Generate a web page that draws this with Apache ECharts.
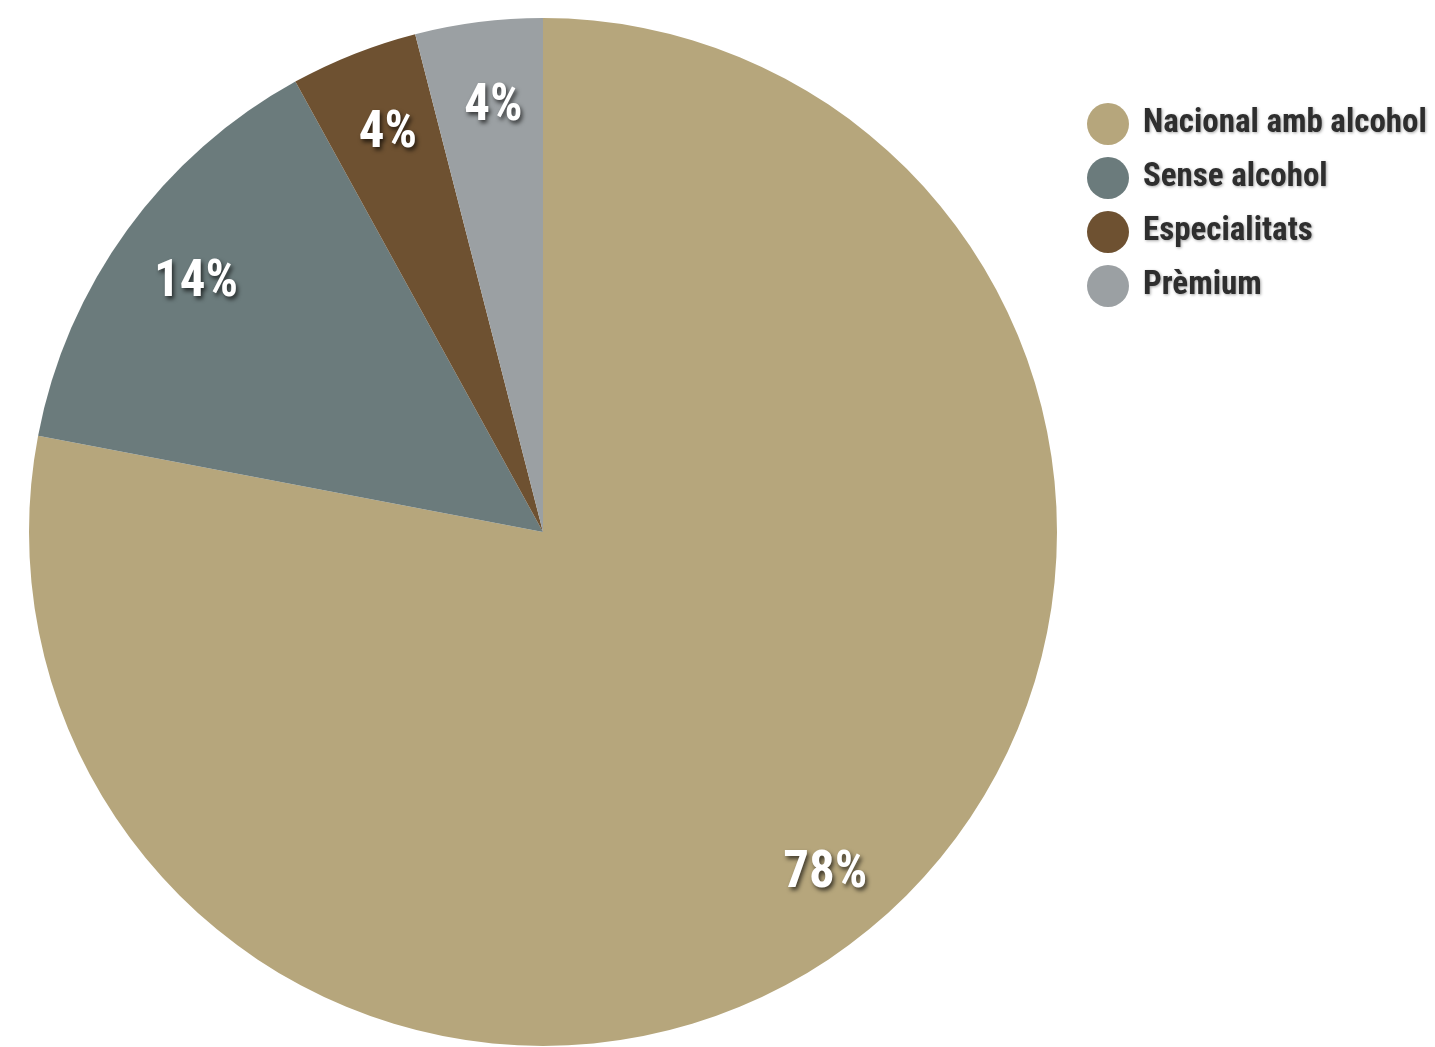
<!DOCTYPE html>
<html>
<head>
<meta charset="utf-8">
<title>Quota per tipus de cervesa</title>
<script src="https://cdn.jsdelivr.net/npm/echarts@6/dist/echarts.min.js"></script>
<style>
  html, body { margin: 0; padding: 0; background: #ffffff; }
  #chart { width: 1435px; height: 1047px; }
</style>
</head>
<body>
<div id="chart"></div>
<script>
// Segments of the market, in drawing order (clockwise from 12 o'clock)
const categories = ['Nacional amb alcohol', 'Sense alcohol', 'Especialitats', 'Prèmium'];
const shares = [78, 14, 4, 4];
const sliceColors = ['#b6a67c', '#6b7b7c', '#6e5131', '#9ba0a3'];

const condensed = '"Roboto Condensed", "Open Sans Condensed", sans-serif';

const pieData = categories.map((name, i) => ({
  name: name,
  value: shares[i],
  itemStyle: { color: sliceColors[i] }
}));

const chart = echarts.init(document.getElementById('chart'), null, { renderer: 'canvas' });

chart.setOption({
  backgroundColor: '#ffffff',
  animation: false,
  legend: {
    orient: 'vertical',
    left: 1082,
    top: 98,
    icon: 'circle',
    itemWidth: 42,
    itemHeight: 42,
    itemGap: 12,
    selectedMode: false,
    data: categories,
    textStyle: {
      fontFamily: condensed,
      fontWeight: 'bold',
      fontSize: 33,
      color: '#2e2e2e',
      padding: [0, 0, 0, 9],
      textShadowColor: 'rgba(0,0,0,0.35)',
      textShadowBlur: 3,
      textShadowOffsetX: 1,
      textShadowOffsetY: 1
    }
  },
  series: [
    {
      // filled slices
      type: 'pie',
      center: [543, 532],
      radius: [0, 514],
      startAngle: 90,
      clockwise: true,
      silent: true,
      label: { show: false },
      labelLine: { show: false },
      itemStyle: { borderWidth: 0 },
      data: pieData
    },
    {
      // transparent ring carrying the percentage labels near the rim
      type: 'pie',
      center: [543, 532],
      radius: [350, 514],
      startAngle: 90,
      clockwise: true,
      silent: true,
      legendHoverLink: false,
      itemStyle: { color: 'rgba(0,0,0,0)', borderWidth: 0 },
      labelLine: { show: false },
      label: {
        show: true,
        position: 'inside',
        offset: [5, 7],
        formatter: p => p.value + '%',
        fontFamily: condensed,
        fontWeight: 'bold',
        fontSize: 51,
        color: '#ffffff',
        textShadowColor: 'rgba(0,0,0,0.65)',
        textShadowBlur: 4,
        textShadowOffsetX: 2,
        textShadowOffsetY: 3
      },
      data: categories.map((name, i) => ({ name: name, value: shares[i] }))
    }
  ]
});
</script>
</body>
</html>
